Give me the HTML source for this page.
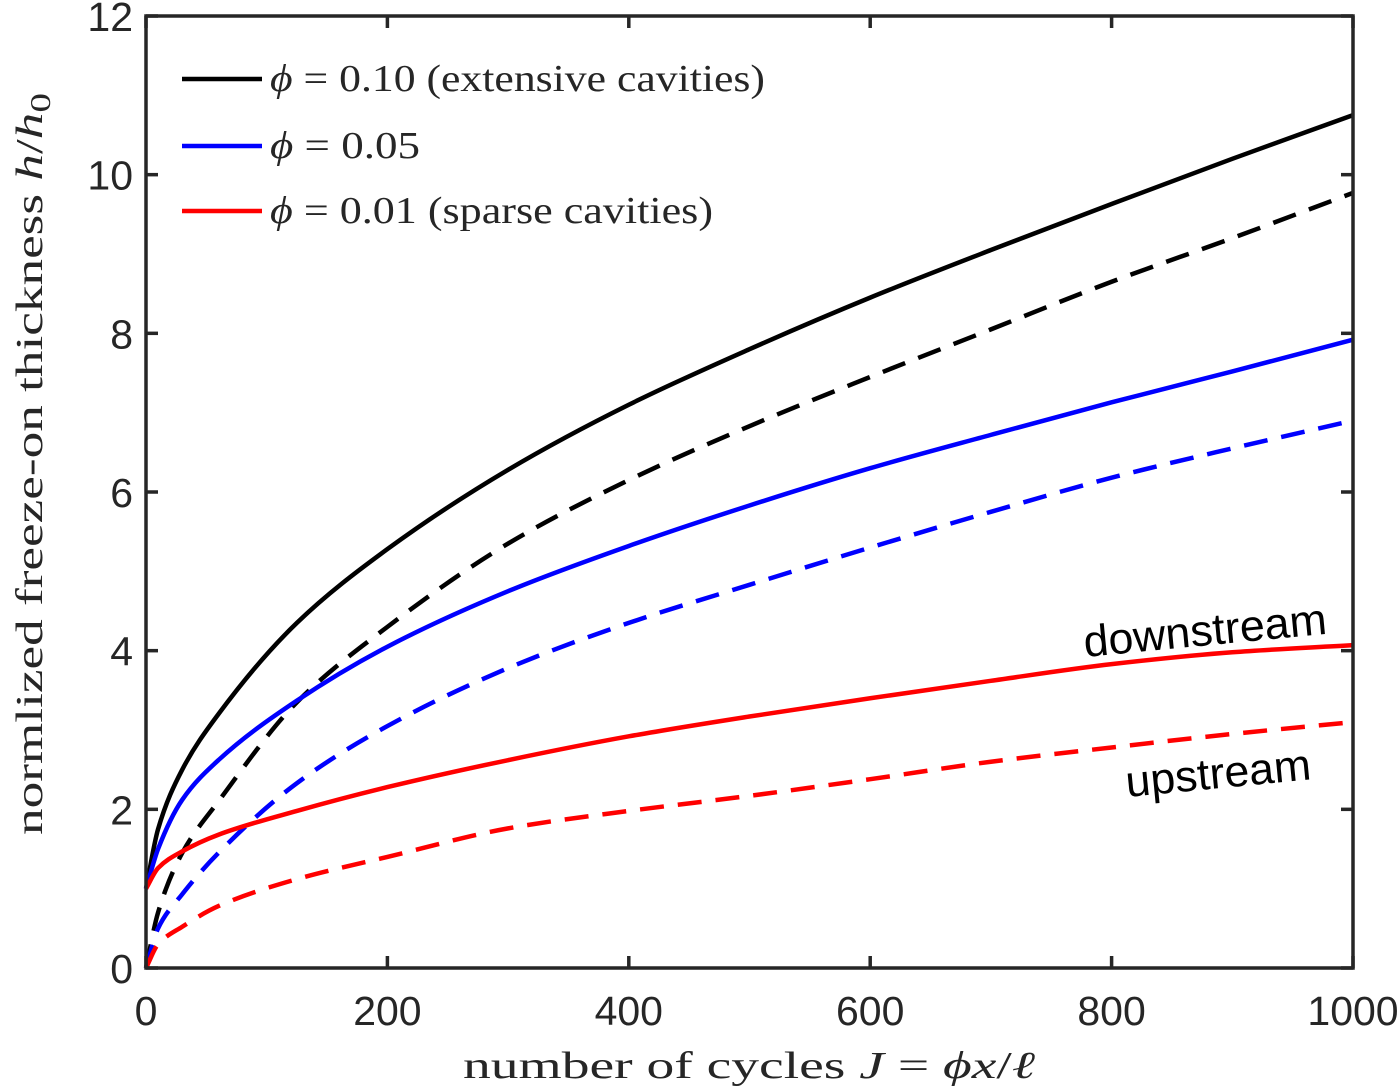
<!DOCTYPE html>
<html><head><meta charset="utf-8"><style>
html,body{margin:0;padding:0;background:#fff;}
svg{display:block;}
.tick{font-family:"Liberation Sans",sans-serif;font-size:41px;fill:#262626;}
.ser{font-family:"Liberation Serif",serif;font-size:38px;fill:#262626;}
</style></head><body>
<svg id="chart" width="1400" height="1092" viewBox="0 0 1400 1092" xmlns="http://www.w3.org/2000/svg">
<g id="plot"></g>
<g id="axes"></g>
<g>
 <line x1="182" y1="79" x2="262" y2="79" stroke="#000" stroke-width="4.5"/>
 <text class="ser" x="270" y="91" textLength="495" lengthAdjust="spacingAndGlyphs"><tspan font-style="italic">ϕ</tspan> = 0.10 (extensive cavities)</text>
 <line x1="182" y1="146" x2="262" y2="146" stroke="#0000ff" stroke-width="4.5"/>
 <text class="ser" x="270" y="158" textLength="150" lengthAdjust="spacingAndGlyphs"><tspan font-style="italic">ϕ</tspan> = 0.05</text>
 <line x1="182" y1="211" x2="262" y2="211" stroke="#ff0000" stroke-width="4.5"/>
 <text class="ser" x="270" y="223" textLength="443" lengthAdjust="spacingAndGlyphs"><tspan font-style="italic">ϕ</tspan> = 0.01 (sparse cavities)</text>
</g>
<text font-family="Liberation Sans, sans-serif" font-size="44" fill="#000" transform="translate(1085,657) rotate(-5.5)" textLength="244" lengthAdjust="spacingAndGlyphs">downstream</text>
<text font-family="Liberation Sans, sans-serif" font-size="44" fill="#000" transform="translate(1127,797) rotate(-5.5)" textLength="186" lengthAdjust="spacingAndGlyphs">upstream</text>
<text class="ser" x="463" y="1078" font-size="40" textLength="572" lengthAdjust="spacingAndGlyphs">number of cycles <tspan font-style="italic">J</tspan> = <tspan font-style="italic">ϕx</tspan>/<tspan font-style="italic">ℓ</tspan></text>
<text class="ser" font-size="40" transform="translate(42,835) rotate(-90)" textLength="742" lengthAdjust="spacingAndGlyphs">normlized freeze-on thickness <tspan font-style="italic">h</tspan>/<tspan font-style="italic">h</tspan><tspan font-size="28" dy="8">0</tspan></text>
</svg>
<script>
const J = [0,10,30,60,125,200,300,400,500,600,700,800,900,1000];
const blackDown = [1,1.75,2.5,3.2,4.35,5.28,6.28,7.1,7.8,8.45,9.05,9.63,10.2,10.75];
const blackUp = [0,0.7,1.45,2.1,3.35,4.3,5.35,6.15,6.83,7.45,8.05,8.65,9.2,9.77];
const blueDown = [1,1.5,2.12,2.62,3.37,4.05,4.75,5.32,5.83,6.3,6.72,7.13,7.52,7.92];
const blueUp = [0,0.5,0.93,1.45,2.33,3.05,3.78,4.35,4.83,5.3,5.75,6.18,6.55,6.9];
const redDown = [1,1.26,1.47,1.68,1.98,2.28,2.62,2.92,3.17,3.4,3.62,3.83,3.98,4.07];
const redUp = [0,0.3,0.52,0.78,1.12,1.4,1.76,1.98,2.17,2.38,2.6,2.78,2.95,3.1];
const xTicks = [0,200,400,600,800,1000];
const yTicks = [0,2,4,6,8,10,12];

const X0=146,X1=1353,Y0=968,Y1=16;
const xs = v => X0 + v/1000*(X1-X0);
const ys = v => Y0 - v/12*(Y0-Y1);
const NS="http://www.w3.org/2000/svg";
const plot=document.getElementById('plot');
const axes=document.getElementById('axes');

// monotone cubic (Fritsch-Carlson) in pixel space
function pathFor(xv,yv){
  const px=xv.map(xs), py=yv.map(ys), n=px.length;
  const d=[],m=new Array(n);
  for(let i=0;i<n-1;i++) d.push((py[i+1]-py[i])/(px[i+1]-px[i]));
  m[0]=d[0]; m[n-1]=d[n-2];
  for(let i=1;i<n-1;i++){
    if(d[i-1]*d[i]<=0) m[i]=0;
    else{
      const h0=px[i]-px[i-1],h1=px[i+1]-px[i];
      const w1=2*h1+h0,w2=h1+2*h0;
      m[i]=(w1+w2)/(w1/d[i-1]+w2/d[i]);
    }
  }
  let s=`M${px[0]},${py[0]}`;
  for(let i=0;i<n-1;i++){
    const h=px[i+1]-px[i];
    s+=` C${px[i]+h/3},${py[i]+m[i]*h/3} ${px[i+1]-h/3},${py[i+1]-m[i+1]*h/3} ${px[i+1]},${py[i+1]}`;
  }
  return s;
}
const series=[
 ['line-phi-010-downstream',blackDown,'#000',false],
 ['line-phi-010-upstream',blackUp,'#000',true],
 ['line-phi-005-downstream',blueDown,'#0000ff',false],
 ['line-phi-005-upstream',blueUp,'#0000ff',true],
 ['line-phi-001-downstream',redDown,'#ff0000',false],
 ['line-phi-001-upstream',redUp,'#ff0000',true]
];
series.forEach(s=>{
  const el=document.createElementNS(NS,'path');
  el.setAttribute('d',pathFor(J,s[1]));
  el.setAttribute('fill','none');
  el.setAttribute('stroke',s[2]);
  el.setAttribute('stroke-width','4.5');
  if(s[3]) el.setAttribute('stroke-dasharray','24 14');
  
  
  plot.appendChild(el);
});
const box=document.createElementNS(NS,'rect');
box.setAttribute('x',X0);box.setAttribute('y',Y1);
box.setAttribute('width',X1-X0);box.setAttribute('height',Y0-Y1);
box.setAttribute('fill','none');box.setAttribute('stroke','#262626');box.setAttribute('stroke-width','3.5');


axes.appendChild(box);
function ln(x1,y1,x2,y2,name){
  const l=document.createElementNS(NS,'line');
  l.setAttribute('x1',x1);l.setAttribute('y1',y1);l.setAttribute('x2',x2);l.setAttribute('y2',y2);
  l.setAttribute('stroke','#262626');l.setAttribute('stroke-width','3.5');
  
  
  axes.appendChild(l);
}
xTicks.forEach(t=>{
  const x=xs(t);
  ln(x,Y0,x,Y0-12,'x-tick');
  ln(x,Y1,x,Y1+12,'x-tick-top');
  const tx=document.createElementNS(NS,'text');
  tx.setAttribute('x',x);tx.setAttribute('y',1025);
  tx.setAttribute('text-anchor','middle');tx.setAttribute('class','tick');
  tx.textContent=t;
  
  
  axes.appendChild(tx);
});
yTicks.forEach(t=>{
  const y=ys(t);
  ln(X0,y,X0+12,y,'y-tick');
  ln(X1,y,X1-12,y,'y-tick-right');
  const tx=document.createElementNS(NS,'text');
  tx.setAttribute('x',133);tx.setAttribute('y',y+15);
  tx.setAttribute('text-anchor','end');tx.setAttribute('class','tick');
  tx.textContent=t;
  
  
  axes.appendChild(tx);
});
</script>
</body></html>
